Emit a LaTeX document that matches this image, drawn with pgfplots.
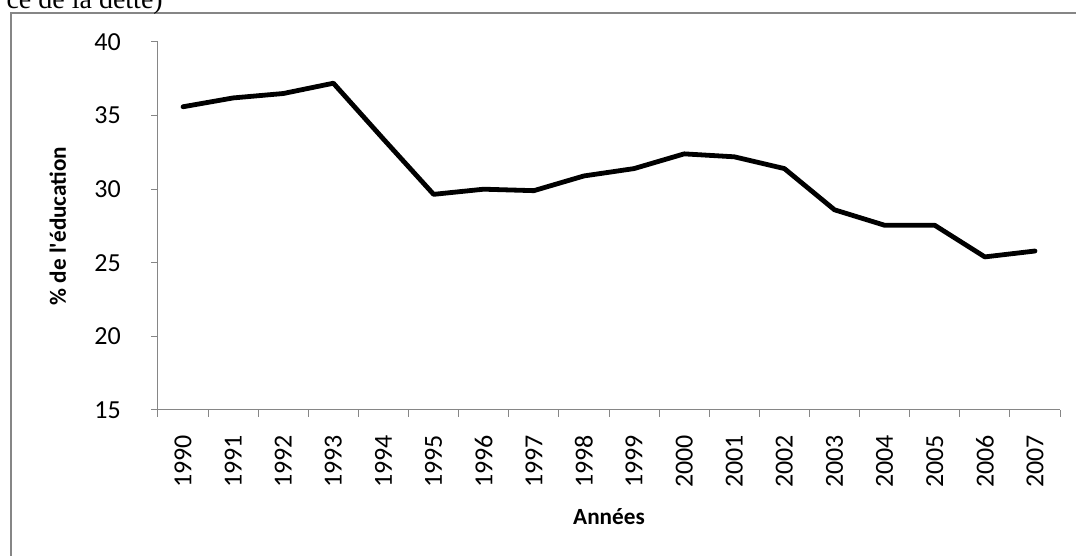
\documentclass[border=0pt]{standalone}
\usepackage{pgfplots}
\pgfplotsset{compat=1.18}
\usepackage{fontspec}
\setmainfont{Carlito}
\newfontfamily\timesfont{Liberation Serif}
\definecolor{axisgray}{RGB}{134,134,134}
\begin{document}
\begin{tikzpicture}
\useasboundingbox (0,0) rectangle (807pt,417pt);
\clip (0,0) rectangle (807pt,417pt);
\draw[axisgray, line width=1.1pt] (8.25pt,-20pt) -- (8.25pt,407.25pt) -- (830pt,407.25pt);
\node[anchor=base east, inner sep=0pt, font=\timesfont\fontsize{21}{24}\selectfont] at (122.25pt,410.6pt) {ce de la dette)};
\begin{axis}[
  at={(118.5pt,109.5pt)}, anchor=south west,
  scale only axis, width=676.5pt, height=276pt,
  xmin=-0.5, xmax=17.5, ymin=15, ymax=40,
  axis x line*=bottom, axis y line*=left,
  axis line style={axisgray, line width=0.75pt, -},
  tick align=outside,
  major tick length=5.25pt,
  tick style={axisgray, line width=0.75pt},
  ytick={15,20,25,30,35,40},
  yticklabels={15,20,25,30,35,40},
  xtick={-0.5,0.5,1.5,2.5,3.5,4.5,5.5,6.5,7.5,8.5,9.5,10.5,11.5,12.5,13.5,14.5,15.5,16.5,17.5},
  x tick label as interval,
  xticklabels={1990,1991,1992,1993,1994,1995,1996,1997,1998,1999,2000,2001,2002,2003,2004,2005,2006,2007,},
  every tick label/.append style={font=\fontsize{19.5}{22}\selectfont, text=black},
  yticklabel style={anchor=east, inner sep=0pt},
  yticklabel shift=22.5pt,
  xticklabel style={rotate=90, anchor=east, inner sep=0pt},
  xticklabel shift=13.5pt,
  xlabel={\textbf{Années}},
  ylabel={\textbf{\% de l\textquotesingle éducation}},
  label style={font=\fontsize{17.4}{20}\selectfont, inner sep=0pt},
  xlabel style={at={(axis description cs:0.5,-0.3125)}, anchor=base},
  ylabel style={at={(axis description cs:-0.102,0.5)}, rotate=0, anchor=base},
]
\addplot[black, line width=3.6pt, line join=round, line cap=round] coordinates {
(0,35.6) (1,36.2) (2,36.5) (3,37.2) (4,33.4) (5,29.65) (6,30.0) (7,29.9) (8,30.9) (9,31.4)
(10,32.4) (11,32.2) (12,31.4) (13,28.6) (14,27.55) (15,27.55) (16,25.4) (17,25.8)
};
\end{axis}
\end{tikzpicture}
\end{document}
